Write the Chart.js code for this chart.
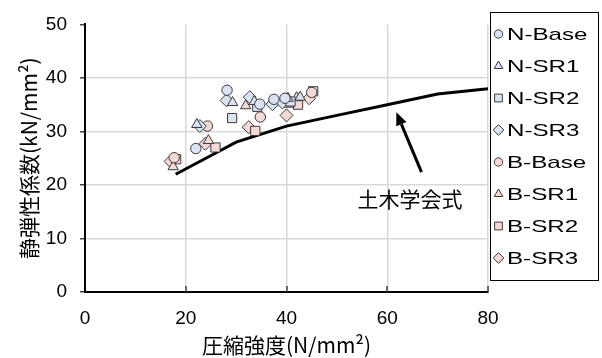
<!DOCTYPE html>
<html><head><meta charset="utf-8">
<script src="https://cdn.jsdelivr.net/npm/chart.js@4/dist/chart.umd.min.js"></script>
<style>html,body{margin:0;padding:0;background:#fff}#wrap{width:602px;height:358px;position:relative}</style>
</head><body><div id="wrap"><canvas id="c"></canvas></div>
<script>
// ---- data (compressive strength fc [N/mm2], static modulus E [kN/mm2]) ----
const nBaseFc = [28.2, 22.0, 34.7, 37.5, 39.7];
const nBaseE  = [37.7, 26.8, 35.1, 36.0, 36.2];
const nSr1Fc  = [29.3, 22.2, 33.6, 40.3, 42.7];
const nSr1E   = [35.4, 31.3, 35.6, 36.2, 36.4];
const nSr2Fc  = [29.2, 34.2, 40.8];
const nSr2E   = [32.5, 34.6, 35.6];
const nSr3Fc  = [28.1, 22.8, 32.7, 37.2, 39.2];
const nSr3E   = [35.8, 31.0, 36.4, 35.1, 35.4];
const bBaseFc = [24.3, 34.8, 17.7, 45.0];
const bBaseE  = [31.0, 32.7, 25.1, 37.3];
const bSr1Fc  = [24.5, 17.5, 31.9, 40.5, 42.0];
const bSr1E   = [28.3, 23.4, 34.8, 35.1, 36.3];
const bSr2Fc  = [25.9, 18.1, 33.8, 42.3, 45.3];
const bSr2E   = [27.0, 24.8, 30.1, 35.0, 37.5];
const bSr3Fc  = [23.9, 17.0, 32.5, 40.0, 44.5];
const bSr3E   = [27.7, 24.4, 30.8, 33.0, 36.2];
// JSCE standard relation
const jsceFc = [18, 24, 30, 40, 50, 60, 70, 80];
const jsceE  = [22, 25, 28, 31, 33, 35, 37, 38];
const seriesLabels = ['N-Base','N-SR1','N-SR2','N-SR3','B-Base','B-SR1','B-SR2','B-SR3'];
const lineLabel = '土木学会式';
const xTitle = '圧縮強度(N/mm²)';
const yTitle = '静弾性係数(kN/mm²)';
const xTicks = [0, 20, 40, 60, 80];
const yTicks = [0, 10, 20, 30, 40, 50];
// annotation anchor points in data units
const arrowFrom = [66.8, 22.4];
const arrowTo   = [61.8, 33.6];
const labelAt   = [64.5, 17.3];

const pts = (xs, ys) => xs.map((x, i) => ({x, y: ys[i]}));
const BLUE = '#dae3f3', PINK = '#f4d9d6', EDGE = '#3a3a3a';
const styles = [
  ['circle', 5.2, BLUE], ['triangle', 6, BLUE], ['rect', 6.5, BLUE], ['rectRot', 6.5, BLUE],
  ['circle', 5.2, PINK], ['triangle', 6, PINK], ['rect', 6.5, PINK], ['rectRot', 6.5, PINK]
];
const legendR = {circle: 4.2, triangle: 5, rect: 5.5, rectRot: 5.3};
const seriesData = [
  pts(nBaseFc, nBaseE), pts(nSr1Fc, nSr1E), pts(nSr2Fc, nSr2E), pts(nSr3Fc, nSr3E),
  pts(bBaseFc, bBaseE), pts(bSr1Fc, bSr1E), pts(bSr2Fc, bSr2E), pts(bSr3Fc, bSr3E)
];
const datasets = seriesLabels.map((lab, i) => ({
  label: lab, data: seriesData[i], pointStyle: styles[i][0], pointRadius: styles[i][1],
  backgroundColor: styles[i][2], borderColor: EDGE, borderWidth: 1, inLegend: true, order: 1,
  showLine: false
}));
datasets.push({
  label: lineLabel, data: pts(jsceFc, jsceE), type: 'line', showLine: true,
  borderColor: '#000', borderWidth: 3, pointRadius: 0, fill: false, tension: 0, order: 20
});

const boxLegend = {
  id: 'boxLegend',
  afterDraw(chart) {
    const ctx = chart.ctx;
    ctx.save();
    const bx = 490.5, by = 12.5, bw = 108, bh = 268;
    ctx.strokeStyle = '#000'; ctx.lineWidth = 1;
    ctx.strokeRect(bx, by, bw, bh);
    const items = chart.data.datasets.filter(d => d.inLegend);
    items.forEach((d, i) => {
      const y = 34 + i * 32;
      ctx.fillStyle = d.backgroundColor; ctx.strokeStyle = d.borderColor; ctx.lineWidth = 1;
      Chart.helpers.drawPoint(ctx, {pointStyle: d.pointStyle, radius: legendR[d.pointStyle], borderWidth: 1, rotation: 0}, 498.5, y);
      ctx.save();
      ctx.fillStyle = '#000';
      ctx.font = '17px "Liberation Sans", Arial, sans-serif';
      ctx.textBaseline = 'middle'; ctx.textAlign = 'left';
      ctx.translate(507, y + 1);
      ctx.scale(1.42, 1);
      ctx.fillText(d.label, 0, 0);
      ctx.restore();
    });
    ctx.restore();
  }
};

const annot = {
  id: 'annot',
  afterDatasetsDraw(chart) {
    const {ctx, scales: {x, y}} = chart;
    ctx.save();
    const x1 = x.getPixelForValue(arrowFrom[0]), y1 = y.getPixelForValue(arrowFrom[1]);
    const x2 = x.getPixelForValue(arrowTo[0]), y2 = y.getPixelForValue(arrowTo[1]);
    const ang = Math.atan2(y2 - y1, x2 - x1);
    const head = 13, hw = 5.5;
    const bxp = x2 - head * Math.cos(ang), byp = y2 - head * Math.sin(ang);
    ctx.strokeStyle = '#000'; ctx.lineWidth = 3; ctx.lineCap = 'butt';
    ctx.beginPath(); ctx.moveTo(x1, y1); ctx.lineTo(bxp, byp); ctx.stroke();
    ctx.fillStyle = '#000';
    ctx.beginPath();
    ctx.moveTo(x2, y2);
    ctx.lineTo(bxp + hw * Math.sin(ang), byp - hw * Math.cos(ang));
    ctx.lineTo(bxp - hw * Math.sin(ang), byp + hw * Math.cos(ang));
    ctx.closePath(); ctx.fill();
    ctx.font = '21px "Noto Sans CJK JP", sans-serif';
    ctx.textAlign = 'center'; ctx.textBaseline = 'middle';
    ctx.fillText(lineLabel, x.getPixelForValue(labelAt[0]), y.getPixelForValue(labelAt[1]));
    // inner tick marks on the x axis
    ctx.strokeStyle = '#404040'; ctx.lineWidth = 1.5;
    x.ticks.forEach(t => {
      if (t.value === 0) return;
      const px = Math.round(x.getPixelForValue(t.value));
      ctx.beginPath(); ctx.moveTo(px, y.bottom); ctx.lineTo(px, y.bottom - 6); ctx.stroke();
    });
    ctx.restore();
  }
};

const tickFont = {family: '"Liberation Sans", Arial, sans-serif', size: 19};
new Chart(document.getElementById('c'), {
  type: 'scatter',
  data: {datasets},
  options: {
    responsive: true, maintainAspectRatio: false, animation: false,
    layout: {padding: {top: 16, right: 114, left: 0, bottom: 0}},
    plugins: {legend: {display: false}, tooltip: {enabled: false}},
    scales: {
      x: {
        type: 'linear', min: 0, max: 80,
        afterBuildTicks: s => { s.ticks = xTicks.map(v => ({value: v})); },
        afterFit: s => { s.height = 66; },
        ticks: {font: tickFont, color: '#000', padding: 15, maxRotation: 0},
        grid: {color: ctx => ctx.tick && ctx.tick.value === 0 ? 'transparent' : '#d9d9d9', lineWidth: 1.5, drawTicks: false},
        border: {color: '#000', width: 2},
        title: {display: true, text: xTitle, color: '#000', font: {family: '"Noto Sans CJK JP", sans-serif', size: 21}, padding: {top: 0, bottom: 0}}
      },
      y: {
        type: 'linear', min: 0, max: 50,
        afterBuildTicks: s => { s.ticks = yTicks.map(v => ({value: v})); },
        afterFit: s => { s.width = 85; },
        ticks: {font: tickFont, color: '#000', padding: 13},
        grid: {color: ctx => ctx.tick && (ctx.tick.value === 50 || ctx.tick.value === 0) ? 'transparent' : '#d9d9d9', lineWidth: 1.5, drawTicks: true, tickLength: 5, tickColor: '#404040', tickWidth: 1.5},
        border: {color: '#000', width: 2},
        title: {display: true, text: yTitle, color: '#000', font: {family: '"Noto Sans CJK JP", sans-serif', size: 21}, padding: {top: 16, bottom: 0}}
      }
    }
  },
  plugins: [annot, boxLegend]
});
</script>
</body></html>
